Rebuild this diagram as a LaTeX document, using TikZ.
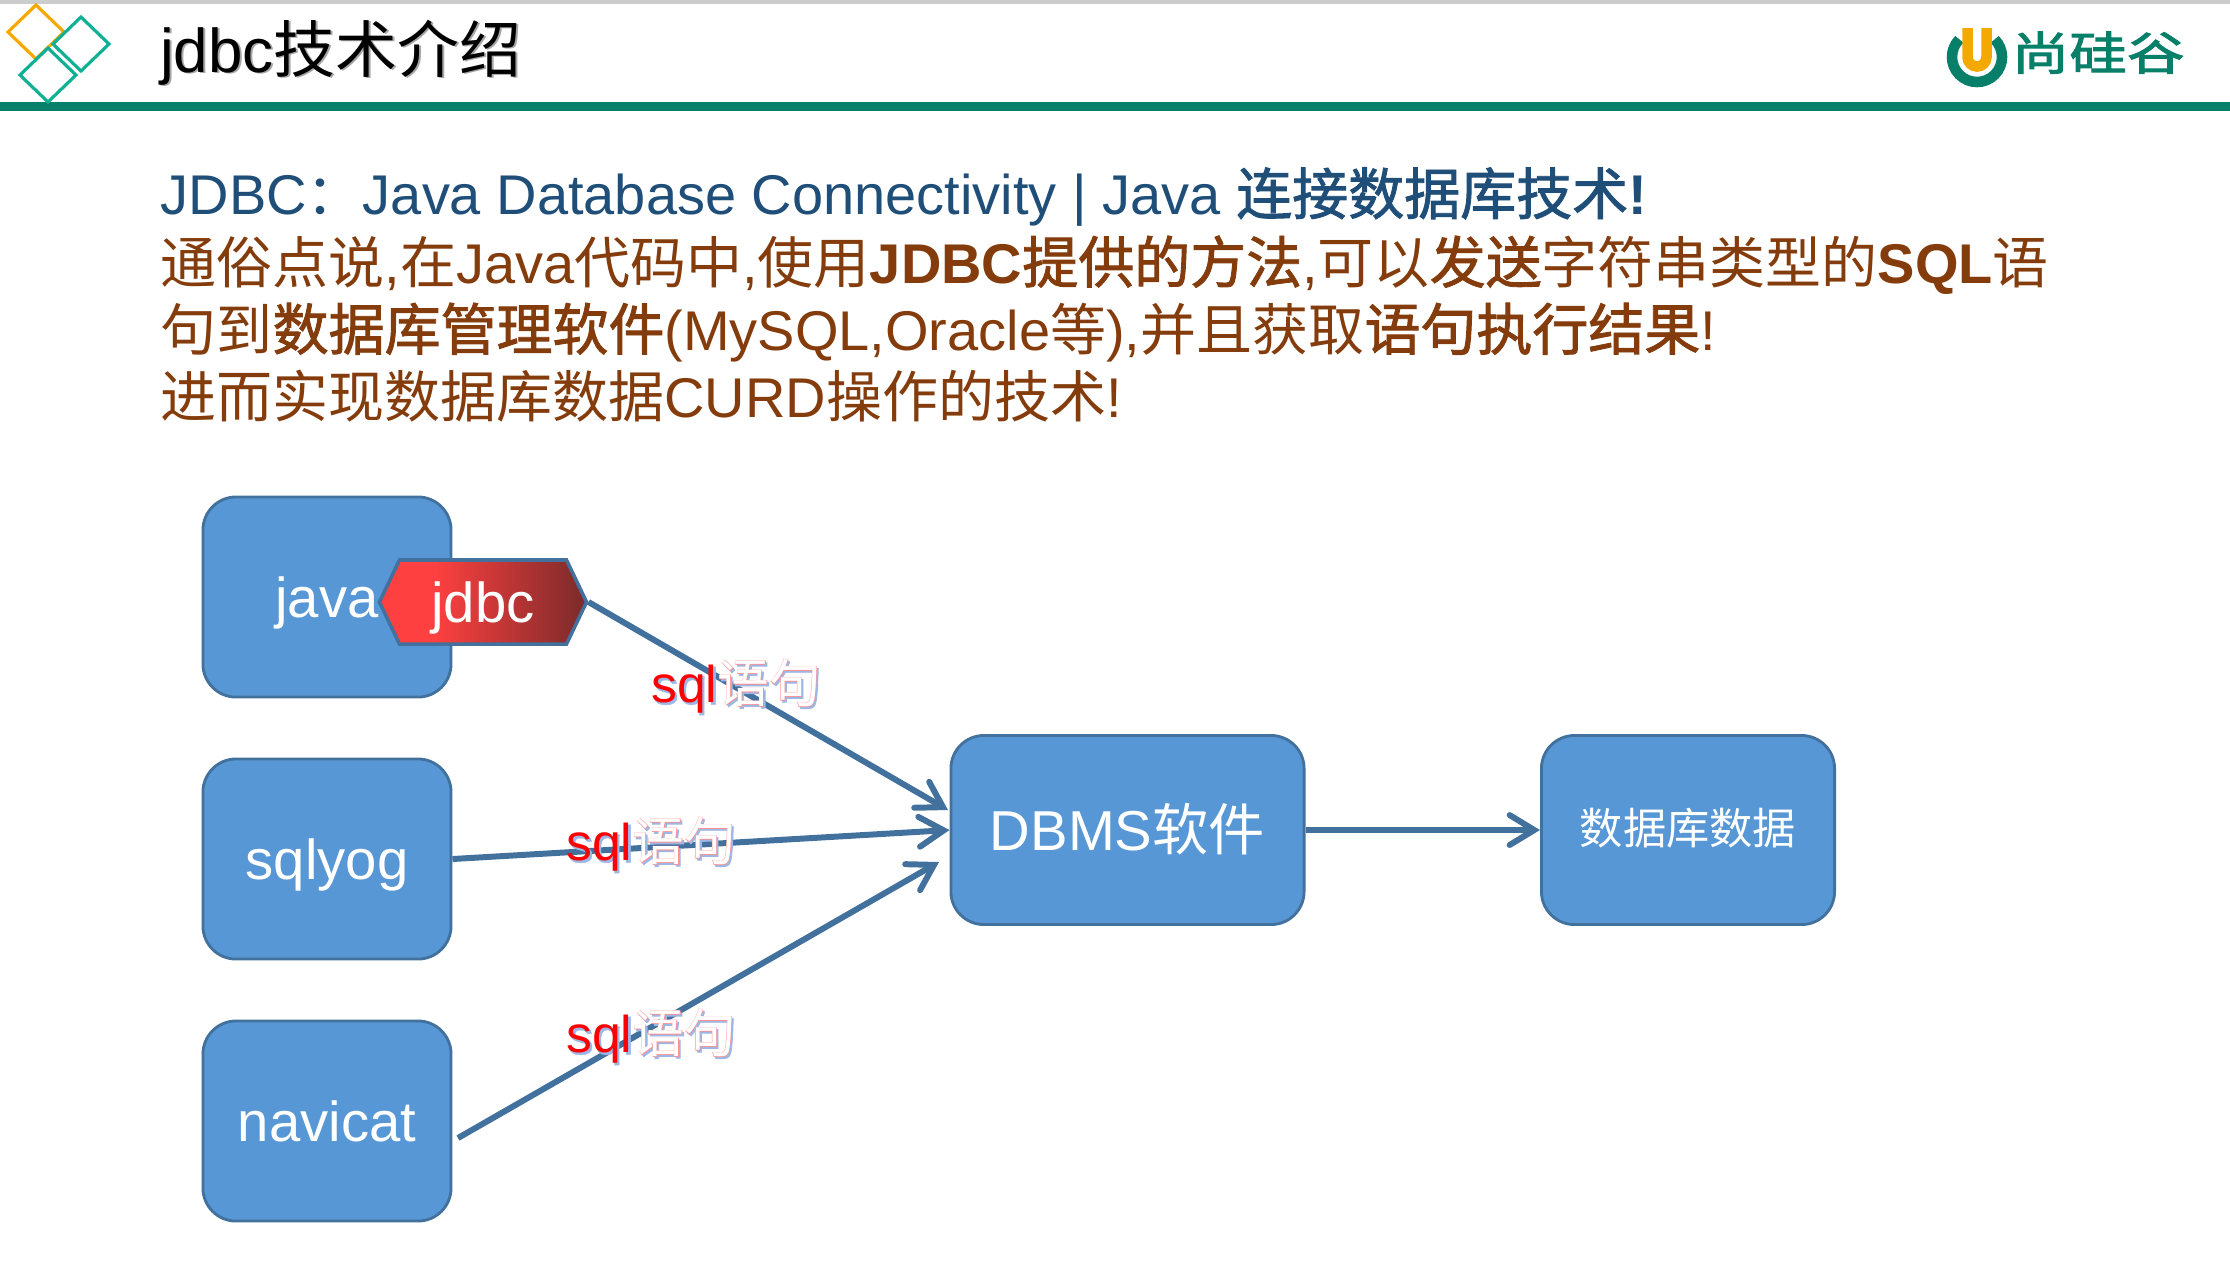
\documentclass[tikz,border=0pt]{standalone}
\usepackage{fontspec}
\setmainfont{Liberation Sans}
\newfontfamily\cjk{Noto Sans CJK SC}
\newfontfamily\cjkb[FakeBold=1.6]{Noto Sans CJK SC}
\newfontfamily\logofont[FakeStretch=1.26,FakeBold=2.2]{Noto Sans CJK SC}
\newfontfamily\sansb[FakeBold=1]{Liberation Sans}
\usetikzlibrary{positioning}
\usetikzlibrary{shapes.symbols}
\usetikzlibrary{arrows.meta}
\definecolor{boxfill}{HTML}{5797D5}
\definecolor{boxline}{HTML}{41719C}
\definecolor{headgreen}{HTML}{087F68}
\definecolor{diamondteal}{HTML}{0FB094}
\definecolor{logoorange}{HTML}{F5A800}
\definecolor{introblue}{HTML}{1F4E79}
\definecolor{introbrown}{HTML}{843C0C}
\definecolor{sqlblue}{HTML}{9DB7E6}
\definecolor{sqlpink}{HTML}{FF9090}
\definecolor{jdbclight}{HTML}{FF4040}
\definecolor{jdbcdark}{HTML}{7A2A2A}
\pgfdeclarehorizontalshading{jdbcfill}{100bp}{color(0bp)=(jdbclight); color(38bp)=(jdbclight); color(75bp)=(jdbcdark); color(100bp)=(jdbcdark)}
\tikzstyle{bigbox}=[rectangle,rounded corners=9.4pt,fill=boxfill,draw=boxline,line width=0.8pt,text=white,font=\fontsize{16}{19}\selectfont,minimum width=2.48cm,minimum height=2.0cm,inner sep=0pt,text height=11.6pt,text depth=0pt]
\tikzstyle{midbox}=[bigbox,minimum height=1.89cm]
\tikzstyle{flow}=[line width=1.7pt,draw=boxline,-{Straight Barb[length=7pt,width=8.5pt,line cap=round]}]
\tikzstyle{diamond line}=[line width=0.9pt,line join=miter]
\tikzstyle{introline}=[anchor=base west,inner sep=0pt,font=\fontsize{15.92}{19}\selectfont]
\tikzstyle{sqlmark}=[inner sep=0pt,font=\fontsize{14.7}{17}\selectfont]
\newcommand{\titleshade}[1]{\rlap{\kern0.55pt\raisebox{-0.55pt}{\textcolor{black!35}{#1}}}#1}
\newcommand{\sqltext}{\rlap{\kern0.5pt\raisebox{-0.55pt}{\textcolor{sqlblue}{{\sansb sql}{\cjkb 语句}}}}\rlap{\textcolor{red}{sql}{\cjkb\textcolor{sqlpink}{语句}}}\phantom{sql}{\cjk\textcolor{white}{语句}}}
\newcommand{\hl}[1]{{\bfseries #1}}
\begin{document}
\begin{tikzpicture}[x=0.01cm,y=-0.01cm]
\useasboundingbox (0,0) rectangle (2230,1262);

%Header
    \fill[black!20] (0,0) rectangle (2230,4);
    \fill[headgreen] (0,102) rectangle (2230,111);
    \draw[diamond line,draw=logoorange] (36,5) -- (64,32) -- (36,59) -- (8,32) -- cycle;
    \foreach \cx/\cy in {81/44, 48/75}
        \draw[diamond line,draw=diamondteal,fill=white] (\cx,\cy-27) -- (\cx+28,\cy) -- (\cx,\cy+27) -- (\cx-28,\cy) -- cycle;
    \node[anchor=base west,inner sep=0pt,font=\fontsize{17.6}{20}\selectfont] (title) at (159.5,72) {\titleshade{jdbc{\cjk 技术介绍}}};

%Logo
    \draw[line width=3pt,draw=headgreen] (1977,57) ++(225:25) arc (225:-45:25);
    \draw[line width=3pt,draw=logoorange] (1967.5,28) -- (1967.5,57) arc (180:0:9.5) -- (1986.5,28);
    \node[anchor=base west,inner sep=0pt,text=headgreen,font=\logofont\fontsize{13}{16}\selectfont] (logotext) at (2011,70) {尚硅谷};

%Intro
    \node[introline,text=introblue] (line1) at (160,214.5) {JDBC{\cjk ：}Java Database Connectivity | Java {\cjkb 连接数据库技术}\hl{!}};
    \node[introline,text=introbrown] (line2) at (160,283) {{\cjk 通俗点说},{\cjk 在}Java{\cjk 代码中},{\cjk 使用}\hl{JDBC}{\cjkb 提供的方法},{\cjk 可以}{\cjkb 发送}{\cjk 字符串类型的}\hl{SQL}{\cjk 语}};
    \node[introline,text=introbrown] (line3) at (160,350) {{\cjk 句到}{\cjkb 数据库管理软件}(MySQL,Oracle{\cjk 等}),{\cjk 并且获取}{\cjkb 语句执行结果}!};
    \node[introline,text=introbrown] (line4) at (160,417) {{\cjk 进而实现数据库数据}CURD{\cjk 操作的技术}!};

%Boxes
    \foreach \pos/\name/\label in {{(327,597)/java/java}, {(327,859)/sqlyog/sqlyog}, {(327,1121)/navicat/navicat}}
        \node[bigbox] (\name) at \pos {\label};
    \node[midbox,minimum width=3.53cm] (dbms) at (1127.5,830) {DBMS{\cjk 软件}};
    \node[midbox,minimum width=2.93cm,font=\fontsize{12.3}{15}\selectfont,text height=10.8pt,text depth=2.7pt] (data) at (1688,830) {\cjk 数据库数据};
    \node[signal,signal to=west and east,signal pointer angle=129,shading=jdbcfill,draw=boxline,line width=1pt,text=white,font=\fontsize{16}{19}\selectfont,minimum width=2.07cm,minimum height=0.84cm,inner sep=0pt,text height=11.6pt,text depth=0pt] (jdbc) at (483,602) {jdbc};

%Connectors
    \coordinate (navicatout) at (458,1138);
    \coordinate (dbmsup) at (948,810);
    \coordinate (dbmslow) at (939,862);
    \foreach \source/\dest in {jdbc.east/dbmsup, sqlyog.east/dbms.west, navicatout/dbmslow, dbms.east/data.west}
        \draw[flow] (\source) -- (\dest);

%Labels
    \foreach \pos/\name in {{(736,687)/sqlone}, {(651,845)/sqltwo}, {(651,1037)/sqlthree}}
        \node[sqlmark] (\name) at \pos {\sqltext};

\end{tikzpicture}
\end{document}
